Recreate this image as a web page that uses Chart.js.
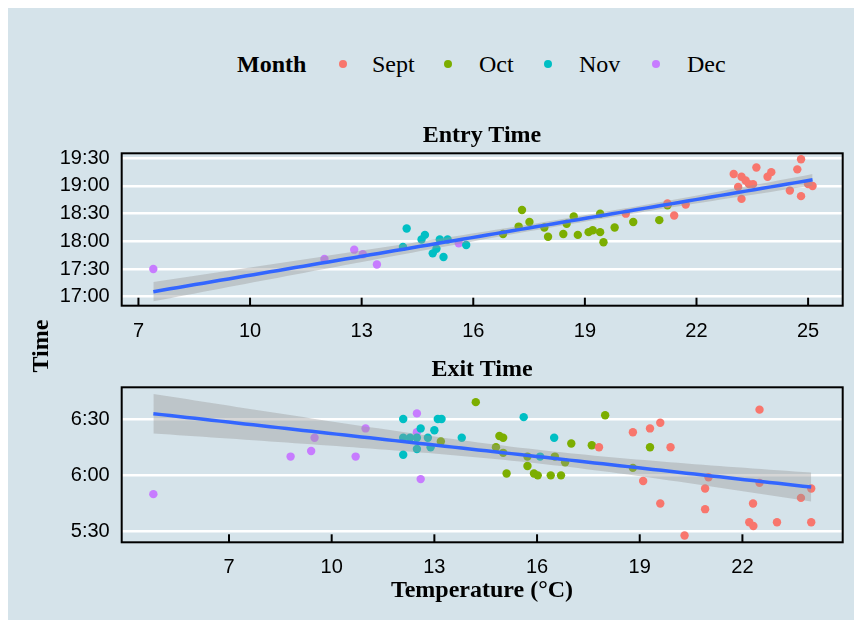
<!DOCTYPE html>
<html>
<head>
<meta charset="utf-8">
<script src="https://cdn.jsdelivr.net/npm/chart.js@4.4.1/dist/chart.umd.min.js"></script>
<style>
html,body{margin:0;padding:0;background:#ffffff;width:854px;height:620px;overflow:hidden;}
#bg{position:absolute;left:8px;top:8px;width:846px;height:612px;background:#d5e3ea;}
canvas{position:absolute;left:0;}
#c1{top:100px;}
#c2{top:340px;}
.serif{position:absolute;font-family:"Liberation Serif","DejaVu Serif",serif;color:#000;font-size:24px;line-height:24px;white-space:nowrap;}
.b{font-weight:bold;}
.dot{position:absolute;width:8px;height:8px;border-radius:50%;}
</style>
</head>
<body>
<div id="bg"></div>
<div id="legend"></div>
<canvas id="c1" width="854" height="240"></canvas>
<canvas id="c2" width="854" height="280"></canvas>
<div class="serif b" style="left:282px;top:122px;width:400px;text-align:center;">Entry Time</div>
<div class="serif b" style="left:282px;top:356px;width:400px;text-align:center;">Exit Time</div>
<div class="serif b" style="left:-10px;top:334px;width:100px;text-align:center;transform:rotate(-90deg);">Time</div>
<div class="serif b" style="left:282px;top:577px;width:400px;text-align:center;">Temperature (°C)</div>
<script>
// ---------- data ----------
const months = ["Sept", "Oct", "Nov", "Dec"];
const monthColors = ["#F8766D", "#7CAE00", "#00BFC4", "#C77CFF"];

// Entry time panel
const entrySeptTemp = [20.10,21.22,21.40,21.71,23.00,23.21,23.12,23.21,23.32,23.41,23.52,23.61,23.91,24.01,24.51,24.71,24.81,24.81,25.00,25.12];
const entrySeptTime = ["18:30","18:41","18:28","18:40","19:13","19:10","18:59","18:46","19:06","19:02","19:02","19:20","19:10","19:15","18:55","19:18","19:29","18:49","19:02","19:00"];
const entryOctTemp = [16.80,17.22,17.31,17.51,17.91,18.01,18.42,18.51,18.70,18.81,19.10,19.21,19.41,19.41,19.50,19.80,20.30,21.00,21.22];
const entryOctTime = ["18:08","18:16","18:34","18:21","18:15","18:05","18:08","18:19","18:27","18:07","18:10","18:12","18:10","18:30","17:59","18:15","18:21","18:23","18:39"];
const entryNovTemp = [14.21,14.11,14.70,14.61,15.10,15.31,15.01,14.91,15.20,15.81];
const entryNovTime = ["18:14","17:54","18:07","18:02","18:02","18:02","17:52","17:47","17:43","17:56"];
const entryDecTemp = [7.40,12.00,12.80,13.03,13.41,15.61];
const entryDecTime = ["17:30","17:41","17:51","17:46","17:35","17:58"];

// Exit time panel
const exitSeptTemp = [17.81,18.80,19.10,19.30,19.60,19.60,19.90,20.31,20.91,20.91,21.01,22.31,22.20,22.32,22.50,22.50,23.01,23.71,24.01,24.01];
const exitSeptTime = ["6:15","6:23","5:57","6:25","6:28","5:45","6:15","5:28","5:53","5:42","5:59","5:45","5:35","5:33","6:35","5:56","5:35","5:48","5:53","5:35"];
const exitOctTemp = [13.19,14.21,14.90,15.01,14.80,15.01,15.11,15.72,15.72,15.91,16.02,16.40,16.52,16.70,16.82,17.00,17.60,17.99,18.80,19.30];
const exitOctTime = ["6:18","6:39","6:21","6:20","6:15","6:12","6:01","6:10","6:05","6:01","6:00","6:00","6:10","6:00","6:07","6:17","6:16","6:32","6:04","6:15"];
const exitNovTemp = [12.09,12.09,12.09,12.29,12.49,12.49,12.60,12.81,12.89,13.00,13.10,13.21,13.80,15.61,16.50,16.09];
const exitNovTime = ["6:30","6:20","6:11","6:20","6:20","6:14","6:25","6:20","6:15","6:24","6:30","6:30","6:20","6:31","6:20","6:10"];
const exitDecTemp = [4.79,8.80,9.40,9.50,10.70,10.99,12.49,12.49,12.60];
const exitDecTime = ["5:50","6:10","6:13","6:20","6:10","6:25","6:33","6:23","5:58"];

// Tick labels
const entryXTicks = [7,10,13,16,19,22,25];
const exitXTicks = [7,10,13,16,19,22];
const entryYTicks = ["17:00","17:30","18:00","18:30","19:00","19:30"];
const exitYTicks = ["5:30","6:00","6:30"];

// ---------- helpers ----------
function toMin(s){const p=s.split(":");return (+p[0])*60+(+p[1]);}
function fmt(m){m=Math.round(m);const h=Math.floor(m/60),mm=m%60;return h+":"+(mm<10?"0":"")+mm;}
function pts(t,y){return t.map((v,i)=>({x:v,y:toMin(y[i])}));}

// linear model with 95% confidence band (like geom_smooth(method="lm"))
function lmFit(xs, ys, nOut){
  const n=xs.length;
  const xb=xs.reduce((a,b)=>a+b,0)/n, yb=ys.reduce((a,b)=>a+b,0)/n;
  let sxx=0,sxy=0;
  for(let i=0;i<n;i++){sxx+=(xs[i]-xb)**2;sxy+=(xs[i]-xb)*(ys[i]-yb);}
  const b=sxy/sxx,a=yb-b*xb;
  let sse=0;for(let i=0;i<n;i++){sse+=(ys[i]-a-b*xs[i])**2;}
  const s=Math.sqrt(sse/(n-2));
  const t=1.96+2.4/(n-2);
  const lo=Math.min(...xs),hi=Math.max(...xs);
  const line=[],low=[],up=[];
  for(let k=0;k<nOut;k++){
    const x=lo+(hi-lo)*k/(nOut-1);
    const f=a+b*x;
    const se=s*Math.sqrt(1/n+(x-xb)**2/sxx);
    line.push({x:x,y:f});low.push({x:x,y:f-t*se});up.push({x:x,y:f+t*se});
  }
  return {line,low,up};
}

// ---------- legend ----------
(function(){
  const L=document.getElementById('legend');
  const mk=(html,style,cls)=>{const d=document.createElement('div');d.className=cls;d.style.cssText=style;d.innerHTML=html;L.appendChild(d);};
  mk("Month","left:237px;top:52px;","serif b");
  const dotX=[343,448,548,656], txtX=[372,479,579,687];
  months.forEach((m,i)=>{
    mk("","left:"+(dotX[i]-4)+"px;top:"+59.5+"px;background:"+monthColors[i]+";","dot");
    mk(m,"left:"+txtX[i]+"px;top:52px;","serif");
  });
})();

// ---------- plugins ----------
const frame={
  id:'frame',
  afterDatasetsDraw(chart,args,opts){
    const {ctx,chartArea:ca}=chart;const xs=chart.scales.x;
    ctx.save();
    ctx.strokeStyle='#000';ctx.lineWidth=2;
    xs.ticks.forEach(t=>{
      const px=xs.getPixelForValue(t.value);
      ctx.beginPath();ctx.moveTo(px,ca.bottom);ctx.lineTo(px,ca.bottom-opts.tick);ctx.stroke();
    });
    ctx.strokeRect(ca.left,ca.top,ca.right-ca.left,ca.bottom-ca.top);
    ctx.restore();
  }
};

function makeChart(id, cfg){
  const groups=[cfg.sept,cfg.oct,cfg.nov,cfg.dec];
  const allX=[],allY=[];
  groups.forEach(g=>{g.forEach(p=>{allX.push(p.x);allY.push(p.y);});});
  const fit=lmFit(allX,allY,80);
  const datasets=[
    {type:'line',data:fit.line,borderColor:'#3366FF',borderWidth:3.5,pointRadius:0,fill:false,tension:0},
    {type:'line',data:fit.low,borderWidth:0,borderColor:'rgba(0,0,0,0)',pointRadius:0,fill:false},
    {type:'line',data:fit.up,borderWidth:0,borderColor:'rgba(0,0,0,0)',pointRadius:0,fill:'-1',backgroundColor:'rgba(153,153,153,0.4)'}
  ];
  groups.forEach((g,i)=>datasets.push({type:'scatter',label:months[i],data:g,pointRadius:4.2,pointHoverRadius:4.2,borderWidth:0,backgroundColor:monthColors[i],pointBackgroundColor:monthColors[i]}));
  return new Chart(document.getElementById(id),{
    type:'scatter',
    data:{datasets},
    plugins:[frame],
    options:{
      responsive:false,animation:false,
      layout:{padding:{left:0,top:cfg.padTop,right:cfg.padRight,bottom:0}},
      plugins:{
        legend:{display:false},tooltip:{enabled:false},title:{display:false},
        frame:{tick:8}
      },
      scales:{
        x:{type:'linear',min:cfg.xMin,max:cfg.xMax,
          afterBuildTicks:s=>{s.ticks=cfg.xTicks.map(v=>({value:v}));},
          afterFit:s=>{s.height=cfg.xAxisH;},
          grid:{display:false,drawTicks:false},border:{display:false},
          ticks:{padding:cfg.xPad,color:'#000',maxRotation:0,autoSkip:false,
            font:{family:'"Liberation Sans", Arial, sans-serif',size:20}}},
        y:{type:'linear',min:cfg.yMin,max:cfg.yMax,
          afterBuildTicks:s=>{s.ticks=cfg.yTicks.map(v=>({value:toMin(v)}));},
          afterFit:s=>{s.width=cfg.yAxisW;},
          grid:{color:'#ffffff',lineWidth:2.5,drawTicks:false},border:{display:false},
          ticks:{padding:12,color:'#000',autoSkip:false,callback:v=>fmt(v),
            font:{family:'"Liberation Sans", Arial, sans-serif',size:20}}}
      }
    }
  });
}

makeChart('c1',{
  sept:pts(entrySeptTemp,entrySeptTime),oct:pts(entryOctTemp,entryOctTime),
  nov:pts(entryNovTemp,entryNovTime),dec:pts(entryDecTemp,entryDecTime),
  xMin:6.55,xMax:25.93,yMin:1010.3,yMax:1175.4,
  xTicks:entryXTicks,yTicks:entryYTicks,
  padTop:53.3,padRight:11.3,xAxisH:34.3,xPad:13.8,yAxisW:121.7
});
makeChart('c2',{
  sept:pts(exitSeptTemp,exitSeptTime),oct:pts(exitOctTemp,exitOctTime),
  nov:pts(exitNovTemp,exitNovTime),dec:pts(exitDecTemp,exitDecTime),
  xMin:3.865,xMax:24.93,yMin:324.35,yMax:406.9,
  xTicks:exitXTicks,yTicks:exitYTicks,
  padTop:47.3,padRight:11.3,xAxisH:77.7,xPad:12.7,yAxisW:121.7
});
</script>
</body>
</html>
